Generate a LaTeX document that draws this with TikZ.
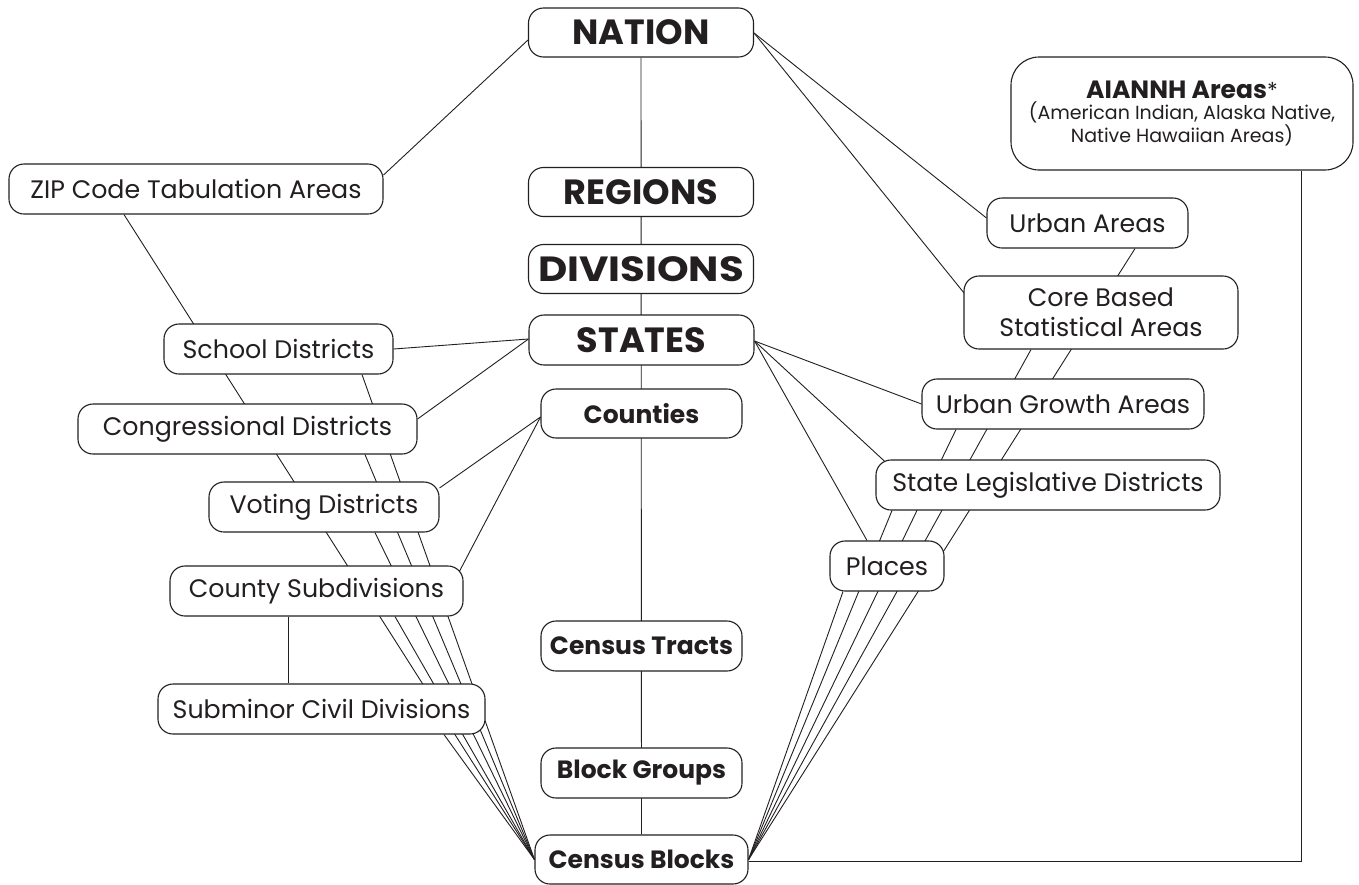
\documentclass[tikz,border=0pt]{standalone}
\usepackage{fontspec}
\setmainfont{Poppins}
\usetikzlibrary{backgrounds}
\definecolor{ink}{HTML}{231F20}
\tikzset{
  box/.style={draw=ink, line width=1.1pt, fill=white, rounded corners=15pt, inner sep=0pt, text=ink, align=center},
  lbl/.style={box, font=\fontsize{25.3}{30}\selectfont},
  big/.style={box, font=\fontsize{35}{38}\selectfont\bfseries, minimum width=225pt, minimum height=49pt},
  mid/.style={box, font=\fontsize{25}{30}\selectfont\bfseries, minimum width=201pt, minimum height=50pt},
  conn/.style={draw=ink, line width=0.9pt}
}
\begin{document}
\begin{tikzpicture}[x=1pt, y=-1pt]
\useasboundingbox (0,0) rectangle (1359,884);
% centre column
\node[big] (nation) at (641,32.5) {NATION};
\node[big] (regions) at (641,192) {REGIONS};
\node[big] (divisions) at (641,269) {\scalebox{1.15}[1]{DIVISIONS}};
\node[big, minimum height=50pt] (states) at (641.5,340) {STATES};
\node[mid, minimum height=49pt] (counties) at (641.5,413.5) {Counties};
\node[mid] (tracts) at (641.5,646) {Census Tracts};
\node[mid] (bgroups) at (641.5,773) {Block Groups};
\node[mid, minimum width=213pt, minimum height=49pt] (blocks) at (641.5,859.5) {Census Blocks};
% left side
\node[lbl, minimum width=374pt, minimum height=50pt] (zip) at (196,189) {ZIP Code Tabulation Areas};
\node[lbl, minimum width=229pt, minimum height=50pt] (school) at (278.5,349) {School Districts};
\node[lbl, minimum width=339pt, minimum height=50pt] (congress) at (247.5,429) {Congressional Districts};
\node[lbl, minimum width=230pt, minimum height=50pt] (voting) at (324,507) {Voting Districts};
\node[lbl, minimum width=293pt, minimum height=50pt] (countysub) at (316.5,591) {County Subdivisions};
\node[lbl, minimum width=327pt, minimum height=50pt] (subminor) at (321.5,709) {Subminor Civil Divisions};
% right side
\node[box, rounded corners=28pt, minimum width=342pt, minimum height=113pt] (aiannh) at (1182,113.5)
  {{\fontsize{25}{28}\selectfont\bfseries AIANNH Areas}{\fontsize{22}{26}\selectfont *}\\[2pt]
   {\fontsize{19}{21}\selectfont (American Indian, Alaska Native,}\\
   {\fontsize{19}{21}\selectfont Native Hawaiian Areas)}};
\node[lbl, minimum width=201pt, minimum height=50pt] (ua) at (1087.5,223) {Urban Areas};
\node[lbl, minimum width=274pt, minimum height=73pt, font=\fontsize{25.3}{30}\selectfont] (cbsa) at (1101,312.5) {Core Based\\Statistical Areas};
\node[lbl, minimum width=282pt, minimum height=50pt] (uga) at (1063,404) {Urban Growth Areas};
\node[lbl, minimum width=344pt, minimum height=50pt] (sld) at (1048,485) {State Legislative Districts};
\node[lbl, minimum width=114pt, minimum height=50pt] (places) at (887,566) {Places};
\begin{scope}[on background layer]
  \fill[white] (0,0) rectangle (1359,884);
  \draw[conn] (nation.south) -- (blocks.north);
  % left bundle to census blocks
  \draw[conn] ([xshift=-72pt]zip.south) -- (blocks.west);
  \draw[conn] ([xshift=83.5pt]school.south) -- (blocks.west);
  \draw[conn] ([xshift=117.5pt]congress.south) -- (blocks.west);
  \draw[conn] ([xshift=51pt]voting.south) -- (blocks.west);
  \draw[conn] ([xshift=78.5pt]countysub.south) -- (blocks.west);
  \draw[conn] ([xshift=122.5pt]subminor.south) -- (blocks.west);
  % right bundle to census blocks
  \draw[conn] ([xshift=47.5pt]ua.south) -- (blocks.east);
  \draw[conn] ([xshift=-70pt]cbsa.south) -- (blocks.east);
  \draw[conn] ([xshift=-107pt]uga.south) -- (blocks.east);
  \draw[conn] ([xshift=-156pt]sld.south) -- (blocks.east);
  \draw[conn] ([xshift=-44pt]places.south) -- (blocks.east);
  % other links
  \draw[conn] ([yshift=-7.5pt]nation.west) -- ([yshift=14pt]zip.east);
  \draw[conn] ([yshift=-0.5pt]nation.east) -- ([yshift=5pt]ua.west);
  \draw[conn] ([yshift=-0.5pt]nation.east) -- ([xshift=1pt,yshift=19pt]cbsa.west);
  \draw[conn] ([yshift=1pt]states.west) -- (school.east);
  \draw[conn] ([yshift=1pt]states.west) -- ([yshift=10pt]congress.east);
  \draw[conn] ([yshift=-1pt]states.east) -- (uga.west);
  \draw[conn] ([yshift=-1pt]states.east) -- ([xshift=11pt,yshift=22pt]sld.west);
  \draw[conn] ([yshift=-1pt]states.east) -- ([xshift=-20pt]places.north);
  \draw[conn] ([yshift=-3.5pt]counties.west) -- ([yshift=19pt]voting.east);
  \draw[conn] ([yshift=-3.5pt]counties.west) -- ([xshift=-5pt,yshift=18pt]countysub.east);
  \draw[conn] ([xshift=-28.5pt]countysub.south) -- ([xshift=-33.5pt]subminor.north);
  \draw[conn] ([xshift=119pt]aiannh.south) |- ([yshift=-1.5pt]blocks.east);
\end{scope}
\end{tikzpicture}
\end{document}
